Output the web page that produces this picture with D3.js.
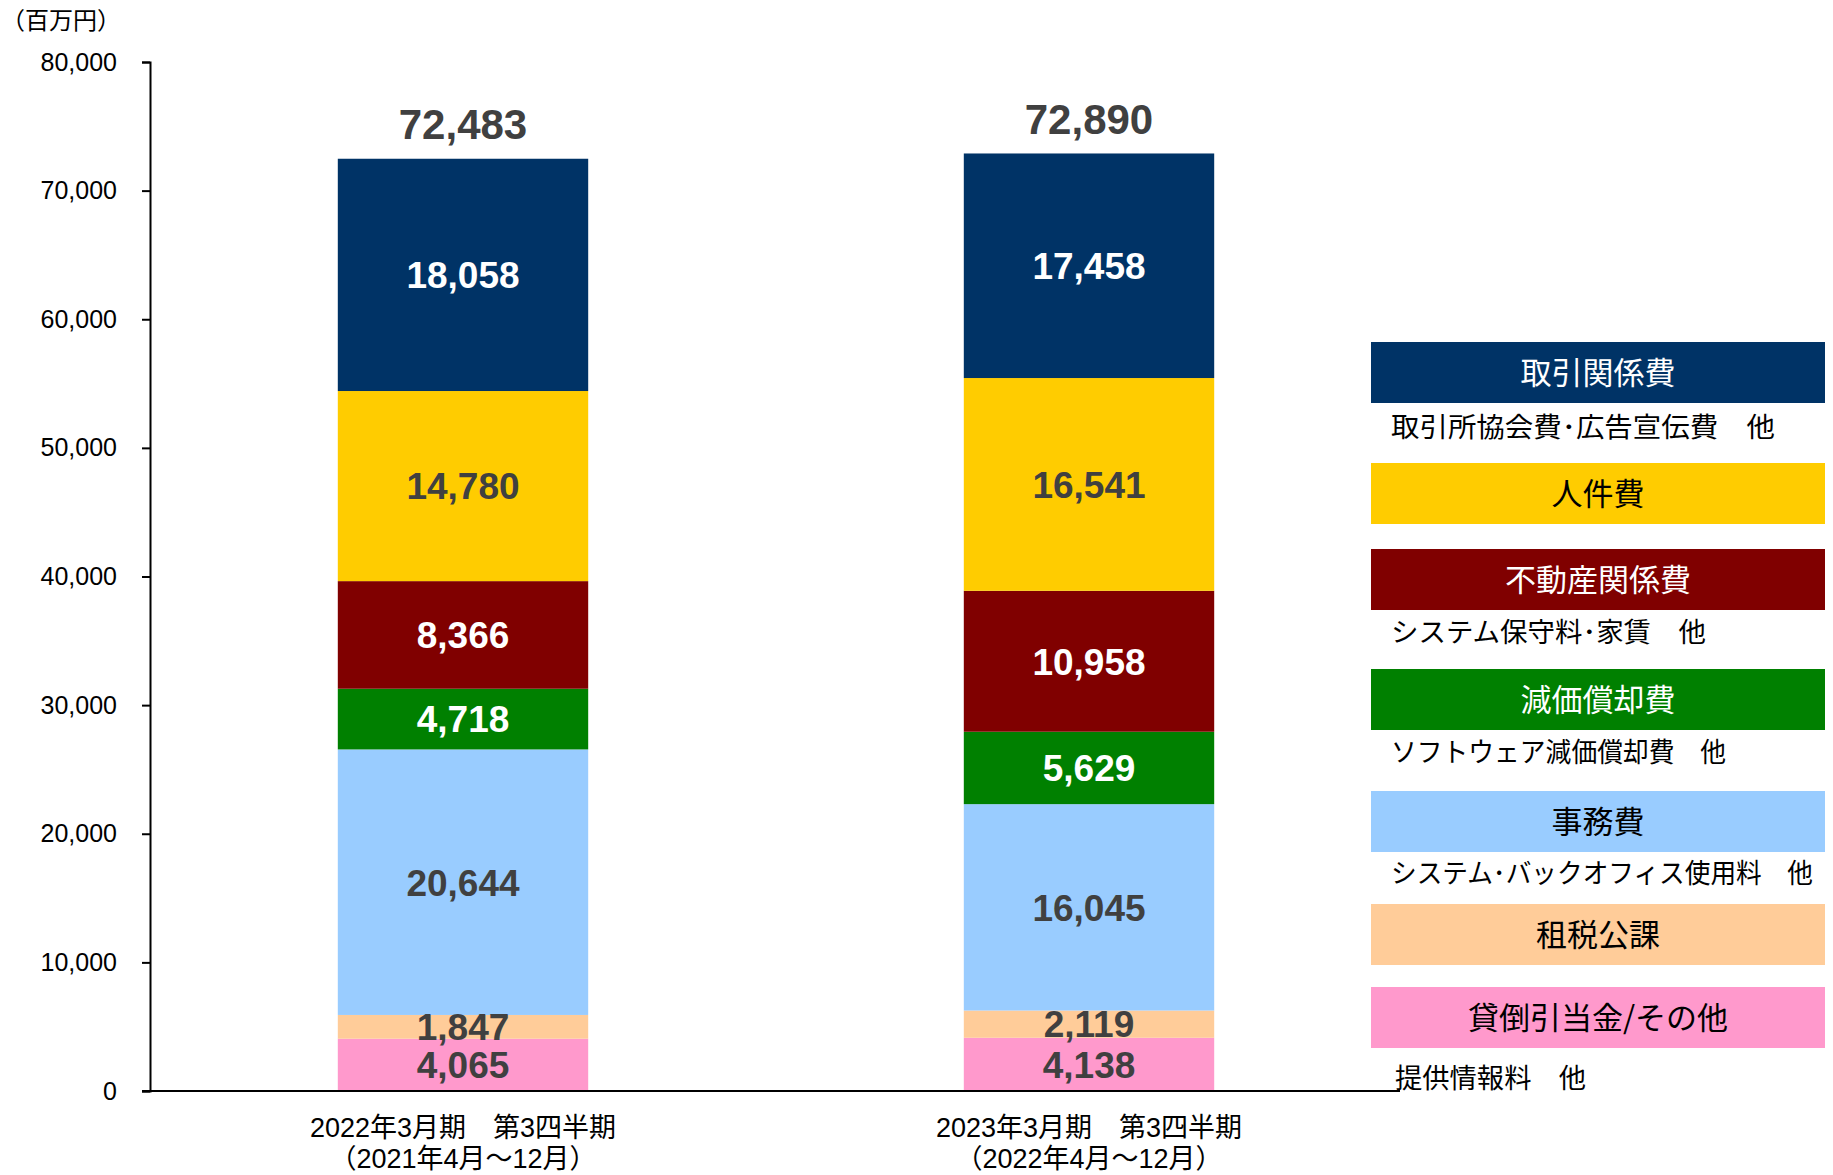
<!DOCTYPE html>
<html>
<head>
<meta charset="utf-8">
<script src="https://cdn.jsdelivr.net/npm/d3@7"></script>
<style>
  body { margin: 0; background: #fff; }
  svg { display: block; }
</style>
</head>
<body>
<svg class="chart"></svg>
<script>
// data
const categories = ['2022年3月期　第3四半期', '2023年3月期　第3四半期'];
const periods = ['（2021年4月～12月）', '（2022年4月～12月）'];
const seriesNames = ['貸倒引当金/その他', '租税公課', '事務費', '減価償却費', '不動産関係費', '人件費', '取引関係費'];
const otherValues = [4065, 4138];
const taxValues = [1847, 2119];
const officeValues = [20644, 16045];
const depreciationValues = [4718, 5629];
const realEstateValues = [8366, 10958];
const personnelValues = [14780, 16541];
const transactionValues = [18058, 17458];
const totals = [72483, 72890];
const yTicks = [0, 10000, 20000, 30000, 40000, 50000, 60000, 70000, 80000];

const colors = ['#FF99CC', '#FFCC99', '#99CCFF', '#008000', '#800000', '#FFCC00', '#003366'];
const labelColors = ['#404040', '#404040', '#404040', '#fff', '#fff', '#404040', '#fff'];

// legend, top to bottom
const legendTitles = ['取引関係費', '人件費', '不動産関係費', '減価償却費', '事務費', '租税公課', '貸倒引当金/その他'];
const legendNotes = ['取引所協会費･広告宣伝費　他', '', 'システム保守料･家賃　他', 'ソフトウェア減価償却費　他', 'システム･バックオフィス使用料　他', '', '提供情報料　他'];
const legendColors = ['#003366', '#FFCC00', '#800000', '#008000', '#99CCFF', '#FFCC99', '#FF99CC'];
const legendText = ['#fff', '#000', '#fff', '#fff', '#000', '#000', '#000'];
const legendTops = [342, 463, 549, 669, 791, 904, 987];
const noteY = [427, 0, 632, 752, 873, 0, 1078];
const noteWidth = [384, 0, 315, 335, 422, 0, 191];

const width = 1833;
const height = 1175;
const numFont = '"Liberation Sans", Arial, sans-serif';
const jpFont = '"Liberation Sans", "Noto Sans CJK JP", sans-serif';

const svg = d3.select('.chart')
  .attr('width', width)
  .attr('height', height)
  .style('font-family', jpFont);

const x = d3.scaleBand()
  .domain(categories)
  .range([150, 1402])
  .paddingInner(0.6)
  .paddingOuter(0.3);

const y = d3.scaleLinear()
  .domain([0, 80000])
  .range([1091, 62]);

const rows = categories.map((c, i) => ({
  cat: c,
  s0: otherValues[i], s1: taxValues[i], s2: officeValues[i], s3: depreciationValues[i],
  s4: realEstateValues[i], s5: personnelValues[i], s6: transactionValues[i]
}));
const keys = ['s0', 's1', 's2', 's3', 's4', 's5', 's6'];
const stacked = d3.stack().keys(keys)(rows);

// bars
const layers = svg.append('g').selectAll('g')
  .data(stacked)
  .join('g')
  .attr('fill', (d, i) => colors[i]);

layers.selectAll('rect')
  .data(d => d)
  .join('rect')
  .attr('x', d => x(d.data.cat))
  .attr('width', x.bandwidth())
  .attr('y', d => y(d[1]))
  .attr('height', d => y(d[0]) - y(d[1]));

// segment labels
stacked.forEach((layer, i) => {
  svg.append('g').selectAll('text')
    .data(layer)
    .join('text')
    .attr('x', d => x(d.data.cat) + x.bandwidth() / 2)
    .attr('y', d => (y(d[0]) + y(d[1])) / 2)
    .attr('dy', '0.36em')
    .attr('text-anchor', 'middle')
    .style('font-family', numFont)
    .style('font-weight', 'bold')
    .style('font-size', '37px')
    .attr('fill', labelColors[i])
    .text(d => d3.format(',')(d[1] - d[0]));
});

// totals on top
svg.append('g').selectAll('text')
  .data(rows)
  .join('text')
  .attr('x', d => x(d.cat) + x.bandwidth() / 2)
  .attr('y', (d, i) => y(d3.sum(keys, k => d[k])) - 35)
  .attr('dy', '0.36em')
  .attr('text-anchor', 'middle')
  .style('font-family', numFont)
  .style('font-weight', 'bold')
  .style('font-size', '42px')
  .attr('fill', '#404040')
  .text((d, i) => d3.format(',')(totals[i]));

// y axis
const yAxis = svg.append('g')
  .attr('transform', 'translate(150,0)')
  .call(d3.axisLeft(y).tickValues(yTicks).tickFormat(d3.format(',')).tickSize(8).tickSizeOuter(8));
yAxis.select('.domain').attr('stroke', '#000').attr('stroke-width', 2);
yAxis.selectAll('.tick line').attr('stroke', '#000').attr('stroke-width', 2);
yAxis.selectAll('.tick text')
  .attr('x', -33)
  .style('font-family', numFont)
  .style('font-size', '25px')
  .attr('fill', '#000');

// x axis line
svg.append('line')
  .attr('x1', 142).attr('x2', 1400)
  .attr('y1', y(0)).attr('y2', y(0))
  .attr('stroke', '#000')
  .attr('stroke-width', 2);

// category labels
const cat = svg.append('g').selectAll('text')
  .data(categories)
  .join('text')
  .attr('x', d => x(d) + x.bandwidth() / 2)
  .attr('text-anchor', 'middle')
  .style('font-size', '27px')
  .attr('fill', '#000');
cat.append('tspan').attr('x', d => x(d) + x.bandwidth() / 2).attr('y', 1137).text(d => d);
cat.append('tspan').attr('x', d => x(d) + x.bandwidth() / 2).attr('y', 1168).text((d, i) => periods[i]);

// unit
svg.append('text')
  .attr('x', 1)
  .attr('y', 29)
  .style('font-size', '24px')
  .attr('fill', '#000')
  .text('（百万円）');

// legend
const legend = svg.append('g');
legendTitles.forEach((t, i) => {
  legend.append('rect')
    .attr('x', 1371).attr('y', legendTops[i])
    .attr('width', 454).attr('height', 61)
    .attr('fill', legendColors[i]);
  legend.append('text')
    .attr('x', 1598).attr('y', legendTops[i] + 30.5)
    .attr('dy', '0.36em')
    .attr('text-anchor', 'middle')
    .style('font-family', '"Noto Sans CJK JP", sans-serif')
    .style('font-size', '31px')
    .attr('fill', legendText[i])
    .text(t);
  if (legendNotes[i]) {
    legend.append('text')
      .attr('x', i === 6 ? 1395 : 1391).attr('y', noteY[i])
      .attr('dy', '0.36em')
      .attr('textLength', noteWidth[i])
      .attr('lengthAdjust', 'spacingAndGlyphs')
      .style('font-family', '"Noto Sans CJK JP", sans-serif')
      .style('font-size', '27px')
      .attr('fill', '#000')
      .text(legendNotes[i]);
  }
});
</script>
</body>
</html>
